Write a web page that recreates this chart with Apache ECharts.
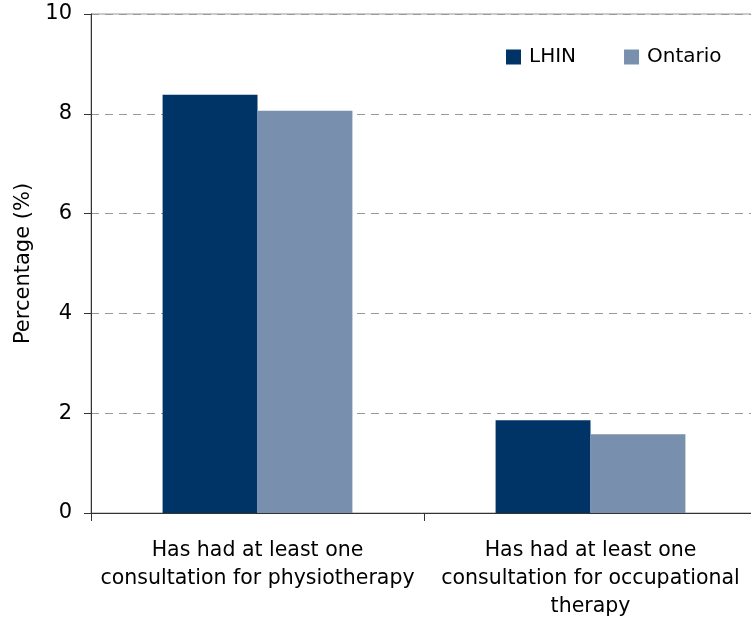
<!DOCTYPE html>
<html>
<head>
<meta charset="utf-8">
<script src="https://cdn.jsdelivr.net/npm/echarts@6/dist/echarts.min.js"></script>
<style>html,body{margin:0;padding:0;background:#fff}#c{width:751px;height:622px}</style>
</head>
<body>
<div id="c"></div>
<script>
var categories = ["Has had at least one\nconsultation for physiotherapy", "Has had at least one\nconsultation for occupational\ntherapy"];
var seriesNames = ["LHIN", "Ontario"];
var lhinValues = [8.38, 1.86];
var ontarioValues = [8.06, 1.58];
var yTicks = [0, 2, 4, 6, 8, 10];

var FONT = "'DejaVu Sans', 'Liberation Sans', Arial, sans-serif";
var chart = echarts.init(document.getElementById('c'), null, {renderer: 'canvas'});
chart.setOption({
  animation: false,
  backgroundColor: '#fff',
  textStyle: {fontFamily: FONT},
  grid: {left: 91, top: 14, height: 499, width: 666, outerBoundsMode: 'none', containLabel: false, show: true, borderColor: '#999', borderWidth: 1, backgroundColor: 'transparent'},
  legend: {
    left: 501, top: 42, itemWidth: 15, itemHeight: 15, itemGap: 48,
    icon: 'rect',
    textStyle: {fontFamily: FONT, fontSize: 20, color: '#000', padding: [0, 0, 0, 3]},
    data: seriesNames
  },
  xAxis: {
    type: 'category',
    data: categories,
    axisLine: {lineStyle: {color: '#333', width: 1}},
    axisTick: {show: true, length: 8, lineStyle: {color: '#333'}},
    axisLabel: {interval: 0, fontFamily: FONT, fontSize: 20.5, lineHeight: 28, color: '#000', margin: 24}
  },
  yAxis: {
    type: 'value', min: yTicks[0], max: yTicks[yTicks.length - 1], interval: 2,
    name: 'Percentage (%)', nameLocation: 'middle', nameGap: 54, nameRotate: 90,
    nameTextStyle: {fontFamily: FONT, fontSize: 21, color: '#000'},
    axisLine: {show: true, lineStyle: {color: '#333', width: 1}},
    axisTick: {show: true, length: 7, lineStyle: {color: '#333'}},
    axisLabel: {fontFamily: FONT, fontSize: 21, color: '#000', margin: 19, padding: [3, 0, 0, 0]},
    splitLine: {show: true, lineStyle: {color: '#999', type: [8, 6], width: 1}}
  },
  series: [
    {name: seriesNames[0], type: 'bar', data: lhinValues, barGap: '0%', barCategoryGap: '43%', itemStyle: {color: '#003366'}},
    {name: seriesNames[1], type: 'bar', data: ontarioValues, itemStyle: {color: '#7890ad'}}
  ]
});
</script>
</body>
</html>
